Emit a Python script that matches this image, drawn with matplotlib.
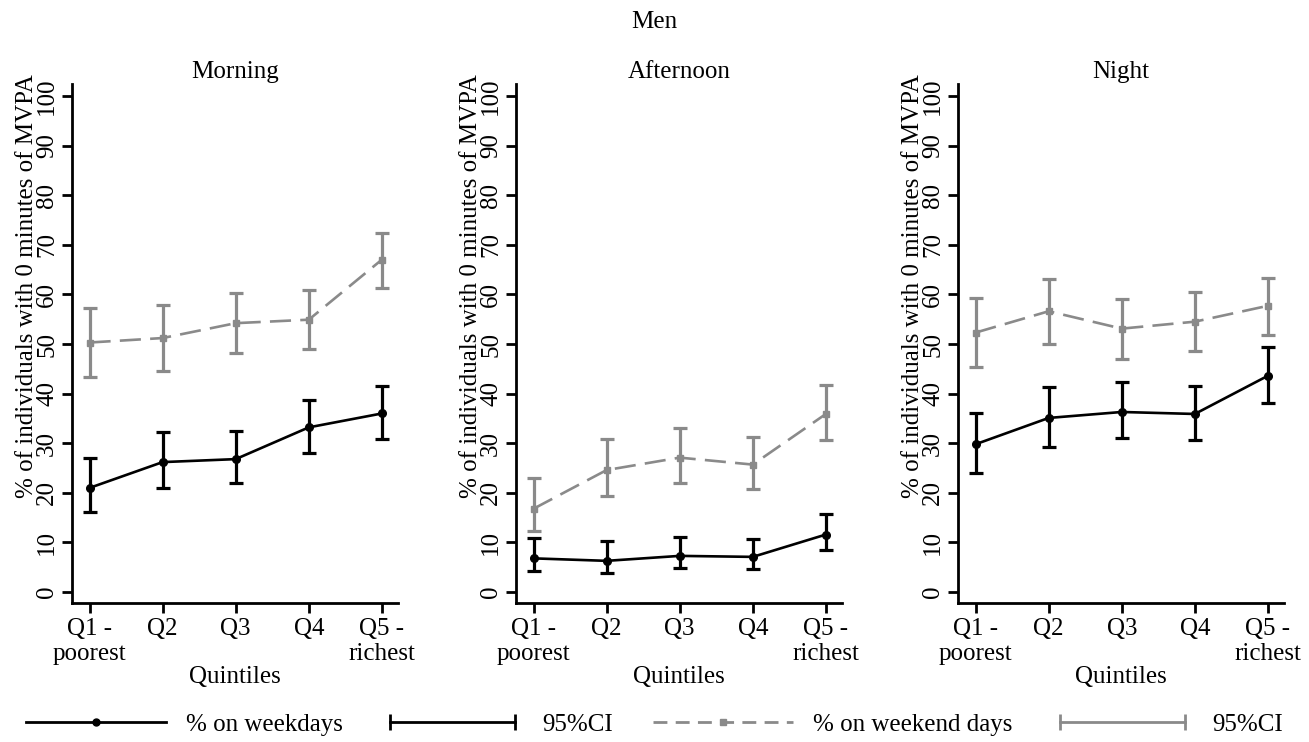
import matplotlib
matplotlib.use("Agg")
import matplotlib.pyplot as plt
import numpy as np
from matplotlib.lines import Line2D
from matplotlib.legend_handler import HandlerLine2D

plt.rcParams["font.family"] = ["Liberation Serif", "DejaVu Serif"]

QUINTILES = [1, 2, 3, 4, 5]
QUINTILE_LABELS = ["Q1 -\npoorest", "Q2", "Q3", "Q4", "Q5 -\nrichest"]
PANELS = ["Morning", "Afternoon", "Night"]

# % on weekdays (point, lower CI, upper CI)
weekday_morning = [21.0, 26.2, 26.8, 33.2, 36.0]
weekday_morning_lo = [16.2, 21.0, 22.0, 28.0, 30.9]
weekday_morning_hi = [27.0, 32.3, 32.5, 38.8, 41.6]

weekday_afternoon = [6.8, 6.3, 7.3, 7.1, 11.6]
weekday_afternoon_lo = [4.2, 3.8, 4.8, 4.6, 8.4]
weekday_afternoon_hi = [11.0, 10.2, 11.2, 10.7, 15.7]

weekday_night = [29.8, 35.1, 36.3, 35.9, 43.6]
weekday_night_lo = [24.1, 29.3, 31.0, 30.6, 38.1]
weekday_night_hi = [36.1, 41.4, 42.3, 41.5, 49.4]

# % on weekend days (point, lower CI, upper CI)
weekend_morning = [50.3, 51.2, 54.2, 54.9, 67.0]
weekend_morning_lo = [43.3, 44.5, 48.2, 49.0, 61.3]
weekend_morning_hi = [57.2, 57.8, 60.3, 60.8, 72.3]

weekend_afternoon = [16.8, 24.6, 27.1, 25.7, 35.9]
weekend_afternoon_lo = [12.3, 19.3, 22.0, 20.8, 30.6]
weekend_afternoon_hi = [22.9, 30.9, 33.0, 31.2, 41.8]

weekend_night = [52.3, 56.6, 53.1, 54.5, 57.7]
weekend_night_lo = [45.3, 50.0, 47.0, 48.6, 51.9]
weekend_night_hi = [59.2, 63.1, 59.1, 60.4, 63.4]

weekday = [
    (weekday_morning, weekday_morning_lo, weekday_morning_hi),
    (weekday_afternoon, weekday_afternoon_lo, weekday_afternoon_hi),
    (weekday_night, weekday_night_lo, weekday_night_hi),
]
weekend = [
    (weekend_morning, weekend_morning_lo, weekend_morning_hi),
    (weekend_afternoon, weekend_afternoon_lo, weekend_afternoon_hi),
    (weekend_night, weekend_night_lo, weekend_night_hi),
]

BLACK = "#000000"
GRAY = "#8a8a8a"
FS = 18

fig = plt.figure(figsize=(13.09, 7.42), dpi=100)
fig.suptitle("Men", fontsize=FS, y=0.985)

lefts = [0.0550, 0.3942, 0.7319]


def draw_series(ax, data, color, marker, ls, ms):
    y, lo, hi = (np.asarray(a) for a in data)
    ax.errorbar(QUINTILES, y, yerr=[y - lo, hi - y], fmt="none",
                ecolor=color, elinewidth=2.3, capsize=4.8, capthick=2.3, zorder=2)
    ax.plot(QUINTILES, y, color=color, linestyle=ls, linewidth=1.9,
            marker=marker, markersize=ms, zorder=3)


for i, name in enumerate(PANELS):
    ax = fig.add_axes([lefts[i], 0.1873, 0.249, 0.6995])
    draw_series(ax, weekend[i], GRAY, "s", (0, (8, 3.5)), 5)
    draw_series(ax, weekday[i], BLACK, "o", "-", 5.5)

    ax.set_xlim(0.76, 5.22)
    ax.set_ylim(-2.2, 102.4)
    ax.set_yticks(range(0, 101, 10))
    ax.set_xticks(QUINTILES)
    ax.set_xticklabels(QUINTILE_LABELS, fontsize=FS, linespacing=1.2)
    ax.tick_params(axis="y", labelrotation=90, labelsize=FS, pad=3)
    for lab in ax.get_yticklabels():
        lab.set_va("center")
    ax.tick_params(width=2, length=7)
    ax.spines["top"].set_visible(False)
    ax.spines["right"].set_visible(False)
    ax.spines["left"].set_linewidth(2)
    ax.spines["bottom"].set_linewidth(2)
    ax.set_title(name, fontsize=FS, pad=4)
    ax.set_xlabel("Quintiles", fontsize=FS, labelpad=1)
    ax.set_ylabel("% of individuals with 0 minutes of MVPA", fontsize=FS)
    ax.yaxis.set_label_coords(-0.105, 0.61)

h_wd = Line2D([], [], color=BLACK, lw=2, marker="o", markersize=5)
h_wd_ci = Line2D([], [], color=BLACK, lw=2, marker="|", markersize=12,
                 markeredgewidth=2)
h_we = Line2D([], [], color=GRAY, lw=2, ls=(0, (5, 3)), marker="s", markersize=5)
h_we_ci = Line2D([], [], color=GRAY, lw=2, marker="|", markersize=12,
                 markeredgewidth=2)

fig.legend(
    [h_wd, h_wd_ci, h_we, h_we_ci],
    ["% on weekdays", "95%CI", "% on weekend days", "95%CI"],
    loc="lower center", bbox_to_anchor=(0.5, -0.022), ncol=4, frameon=False,
    fontsize=FS, handlelength=5.6, handletextpad=0.8, columnspacing=1.6,
    handler_map={h_wd_ci: HandlerLine2D(numpoints=2),
                 h_we_ci: HandlerLine2D(numpoints=2)},
)

fig.savefig("out.png", dpi=100)
